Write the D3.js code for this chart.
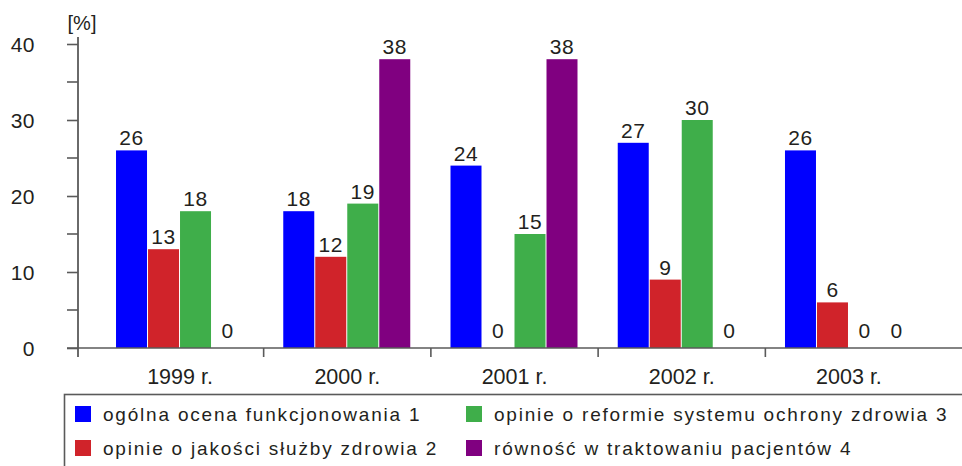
<!DOCTYPE html>
<html><head><meta charset="utf-8">
<script src="https://cdn.jsdelivr.net/npm/d3@7"></script>
<style>body{margin:0;background:#fff}svg{display:block}</style>
</head><body>
<svg id="c" width="962" height="466"></svg>
<script>
const years = ["1999 r.", "2000 r.", "2001 r.", "2002 r.", "2003 r."];
const seriesNames = ["ogólna ocena funkcjonowania 1", "opinie o jakości służby zdrowia 2",
  "opinie o reformie systemu ochrony zdrowia 3", "równość w traktowaniu pacjentów 4"];
const s1 = [26, 18, 24, 27, 26];
const s2 = [13, 12, 0, 9, 6];
const s3 = [18, 19, 15, 30, 0];
const s4 = [0, 38, 38, 0, 0];
const colors = ["#0000ff", "#d0232a", "#3fae4a", "#800080"];
const yTicks = [0, 10, 20, 30, 40];
const yMinor = [5, 15, 25, 35];
const unitLabel = "[%]";

const values = [s1, s2, s3, s4];
const svg = d3.select("#c");
const font = "'Liberation Sans', Arial, Helvetica, sans-serif";
const txt = "#231f20", axc = "#5a5a5a";

const y = d3.scaleLinear().domain([0, 40]).range([348, 44]);
const x = d3.scaleBand().domain(years).range([96.4, 932.6]);
const inner = d3.scaleBand().domain(d3.range(4)).range([0, 128]);
const off = (x.bandwidth() - 128) / 2;

// bars
years.forEach((yr, i) => {
  const g = svg.append("g").attr("transform", `translate(${x(yr) + off},0)`);
  values.forEach((arr, k) => {
    const v = arr[i];
    if (v > 0) {
      g.append("rect").attr("x", inner(k)).attr("width", inner.bandwidth() - 1)
        .attr("y", y(v)).attr("height", y(0) - y(v)).attr("fill", colors[k]);
    }
    g.append("text").attr("x", inner(k) + inner.bandwidth() / 2 - 0.5)
      .attr("y", y(v) - (v === 0 ? 10 : 5)).attr("text-anchor", "middle")
      .attr("font-family", font).attr("font-size", 21).attr("letter-spacing", 0.5)
      .attr("fill", txt).text(v);
  });
});

// y axis
const yAxis = d3.axisLeft(y).tickValues(yTicks).tickSize(11).tickPadding(32).tickSizeOuter(0);
const ya = svg.append("g").attr("transform", "translate(78,0)").call(yAxis);
ya.select(".domain").remove();
ya.selectAll("line").attr("stroke", axc).attr("stroke-width", 1.6);
ya.selectAll("text").attr("font-family", font).attr("font-size", 21).attr("fill", txt)
  .attr("letter-spacing", 0.5).attr("dy", "0.36em");
svg.append("g").attr("transform", "translate(78,0)").selectAll("line").data(yMinor).join("line")
  .attr("x1", -11).attr("x2", 0).attr("y1", d => y(d)).attr("y2", d => y(d))
  .attr("stroke", axc).attr("stroke-width", 1.6);
svg.append("line").attr("x1", 78).attr("x2", 78).attr("y1", y(40) - 7).attr("y2", y(0) + 9)
  .attr("stroke", axc).attr("stroke-width", 1.8);
svg.append("text").attr("x", 82).attr("y", 30).attr("text-anchor", "middle")
  .attr("font-family", font).attr("font-size", 20).attr("fill", txt).text(unitLabel);

// x axis
svg.append("line").attr("x1", 67).attr("x2", 962).attr("y1", y(0)).attr("y2", y(0))
  .attr("stroke", axc).attr("stroke-width", 1.6);
svg.selectAll(".sep").data(years.slice(1)).join("line")
  .attr("x1", d => x(d)).attr("x2", d => x(d)).attr("y1", y(0)).attr("y2", y(0) + 9)
  .attr("stroke", axc).attr("stroke-width", 1.6);
svg.selectAll(".cat").data(years).join("text")
  .attr("x", d => x(d) + x.bandwidth() / 2).attr("y", 384).attr("text-anchor", "middle")
  .attr("font-family", font).attr("font-size", 21.5).attr("fill", txt).text(d => d);

// legend
svg.append("rect").attr("x", 64.5).attr("y", 394.5).attr("width", 920).attr("height", 100)
  .attr("fill", "none").attr("stroke", axc).attr("stroke-width", 1.6);
const legPos = [[75, 414], [75, 448], [466, 414], [466, 448]];
seriesNames.forEach((n, k) => {
  const [lx, ly] = legPos[k];
  svg.append("rect").attr("x", lx).attr("y", ly - 8).attr("width", 16).attr("height", 16)
    .attr("fill", colors[k]);
  svg.append("text").attr("x", lx + 28).attr("y", ly).attr("dy", "0.36em")
    .attr("font-family", font).attr("font-size", 19).attr("letter-spacing", 1.8)
    .attr("fill", txt).text(n);
});
</script>
</body></html>
